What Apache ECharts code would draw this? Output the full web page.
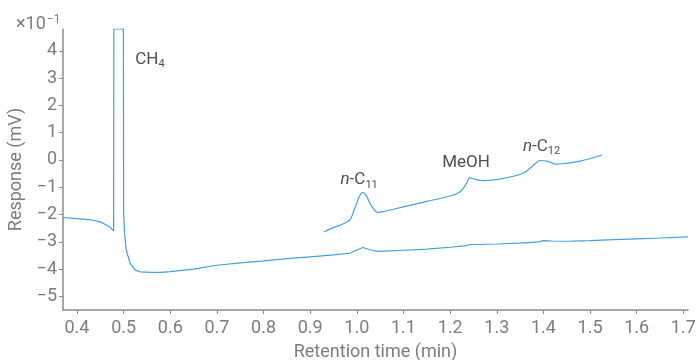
<!DOCTYPE html>
<html>
<head>
<meta charset="utf-8">
<script src="https://cdn.jsdelivr.net/npm/echarts@6/dist/echarts.min.js"></script>
<style>
  html, body { margin: 0; padding: 0; background: #fff; }
  #chart { width: 696px; height: 360px; }
</style>
</head>
<body>
<div id="chart"></div>
<script>
// main chromatogram (retention time in min, response x10^-1 mV)
const mainTime = [0.37, 0.40, 0.43, 0.45, 0.47, 0.4785, 0.479, 0.4995, 0.500, 0.502, 0.5056, 0.514,
  0.525, 0.536, 0.56, 0.58, 0.60, 0.65, 0.70, 0.75, 0.80, 0.85, 0.90, 0.95, 0.985, 1.00, 1.013,
  1.03, 1.045, 1.10, 1.15, 1.20, 1.23, 1.245, 1.26, 1.30, 1.35, 1.39, 1.40, 1.42, 1.45, 1.50,
  1.55, 1.60, 1.65, 1.71];
const mainResp = [-2.11, -2.15, -2.20, -2.27, -2.45, -2.60, 4.8, 4.8, -1.95, -2.68, -3.31, -3.79,
  -4.04, -4.10, -4.12, -4.12, -4.09, -4.00, -3.86, -3.77, -3.70, -3.62, -3.55, -3.48, -3.42, -3.30, -3.21,
  -3.30, -3.35, -3.31, -3.27, -3.20, -3.15, -3.10, -3.10, -3.08, -3.05, -3.00, -2.96, -2.97, -2.98, -2.96,
  -2.92, -2.89, -2.86, -2.82];

// expanded / offset trace
const zoomTime = [0.93, 0.95, 0.97, 0.985, 0.995, 1.005, 1.012, 1.02, 1.03, 1.04, 1.046, 1.06, 1.10,
  1.15, 1.20, 1.22, 1.232, 1.243, 1.255, 1.27, 1.30, 1.34, 1.36, 1.375, 1.393, 1.41, 1.425, 1.44,
  1.48, 1.526];
const zoomResp = [-2.63, -2.48, -2.35, -2.20, -1.80, -1.35, -1.20, -1.30, -1.65, -1.88, -1.92, -1.88, -1.72,
  -1.52, -1.32, -1.18, -0.95, -0.66, -0.72, -0.76, -0.72, -0.58, -0.45, -0.25, -0.02, -0.05, -0.15, -0.14,
  -0.04, 0.18];

// peak labels
const peakNames = ['CH{sub|4}', '{it|n}-C{sub|11}', 'MeOH', '{it|n}-C{sub|12}'];
const peakTime = [0.525, 0.965, 1.183, 1.356];
const peakResp = [3.68, -0.74, -0.11, 0.49];

const xTicks = [0.4, 0.5, 0.6, 0.7, 0.8, 0.9, 1.0, 1.1, 1.2, 1.3, 1.4, 1.5, 1.6, 1.7];
const yTicks = [-5, -4, -3, -2, -1, 0, 1, 2, 3, 4];

const lineColor = '#42a0de';
const gray = '#7d7d7d';
const font = 'Roboto, "Noto Sans", sans-serif';

const chart = echarts.init(document.getElementById('chart'));

chart.setOption({
  animation: false,
  textStyle: { fontFamily: font },
  title: {
    text: '×10{sup|−1}',
    left: 11,
    top: 9,
    textStyle: {
      fontFamily: font, fontSize: 18, fontWeight: 'normal', color: gray,
      rich: { sup: { fontFamily: font, fontSize: 12, color: gray, verticalAlign: 'top', padding: [0, 0, 9, 1] } }
    }
  },
  grid: { left: 63, right: 8, top: 29, bottom: 50, containLabel: false, outerBoundsMode: 'none' },
  xAxis: {
    type: 'value',
    min: 0.37,
    max: 1.71,
    name: 'Retention time (min)',
    nameLocation: 'middle',
    nameGap: 33,
    nameTextStyle: { fontSize: 18, color: gray, fontFamily: font },
    splitLine: { show: false },
    axisLine: { onZero: false, lineStyle: { color: '#8a8a8a', width: 1.5 } },
    axisTick: { customValues: xTicks, length: 4, lineStyle: { color: '#8a8a8a' } },
    axisLabel: {
      customValues: xTicks,
      margin: 9,
      fontSize: 18,
      color: gray,
      formatter: v => v.toFixed(1)
    }
  },
  yAxis: {
    type: 'value',
    min: -5.5,
    max: 4.8,
    name: 'Response (mV)',
    nameLocation: 'middle',
    nameGap: 36,
    nameTextStyle: { fontSize: 18, color: gray, fontFamily: font },
    splitLine: { show: false },
    axisLine: { show: true, onZero: false, lineStyle: { color: '#8a8a8a', width: 1.5 } },
    axisTick: { show: true, customValues: yTicks, length: 4, lineStyle: { color: '#8a8a8a' } },
    axisLabel: {
      customValues: yTicks,
      margin: 6,
      fontSize: 18,
      color: gray,
      formatter: v => String(v).replace('-', '−')
    }
  },
  series: [
    {
      type: 'line',
      data: mainTime.map((t, i) => [t, mainResp[i]]),
      showSymbol: false,
      symbol: 'none',
      lineStyle: { color: lineColor, width: 1.2 },
      clip: true
    },
    {
      type: 'line',
      data: zoomTime.map((t, i) => [t, zoomResp[i]]),
      showSymbol: false,
      symbol: 'none',
      smooth: 0.3,
      lineStyle: { color: lineColor, width: 1.2 }
    },
    {
      type: 'scatter',
      symbolSize: 0,
      data: peakTime.map((t, i) => ({ value: [t, peakResp[i]], name: peakNames[i] })),
      label: {
        show: true,
        position: 'right',
        distance: 0,
        formatter: p => p.name,
        fontFamily: font,
        fontSize: 17,
        color: '#222',
        rich: {
          sub: { fontFamily: font, fontSize: 11, color: '#222', verticalAlign: 'bottom', padding: [10, 0, 0, 0] },
          it: { fontFamily: font, fontSize: 17, color: '#222', fontStyle: 'italic' }
        }
      }
    }
  ]
});
</script>
</body>
</html>
